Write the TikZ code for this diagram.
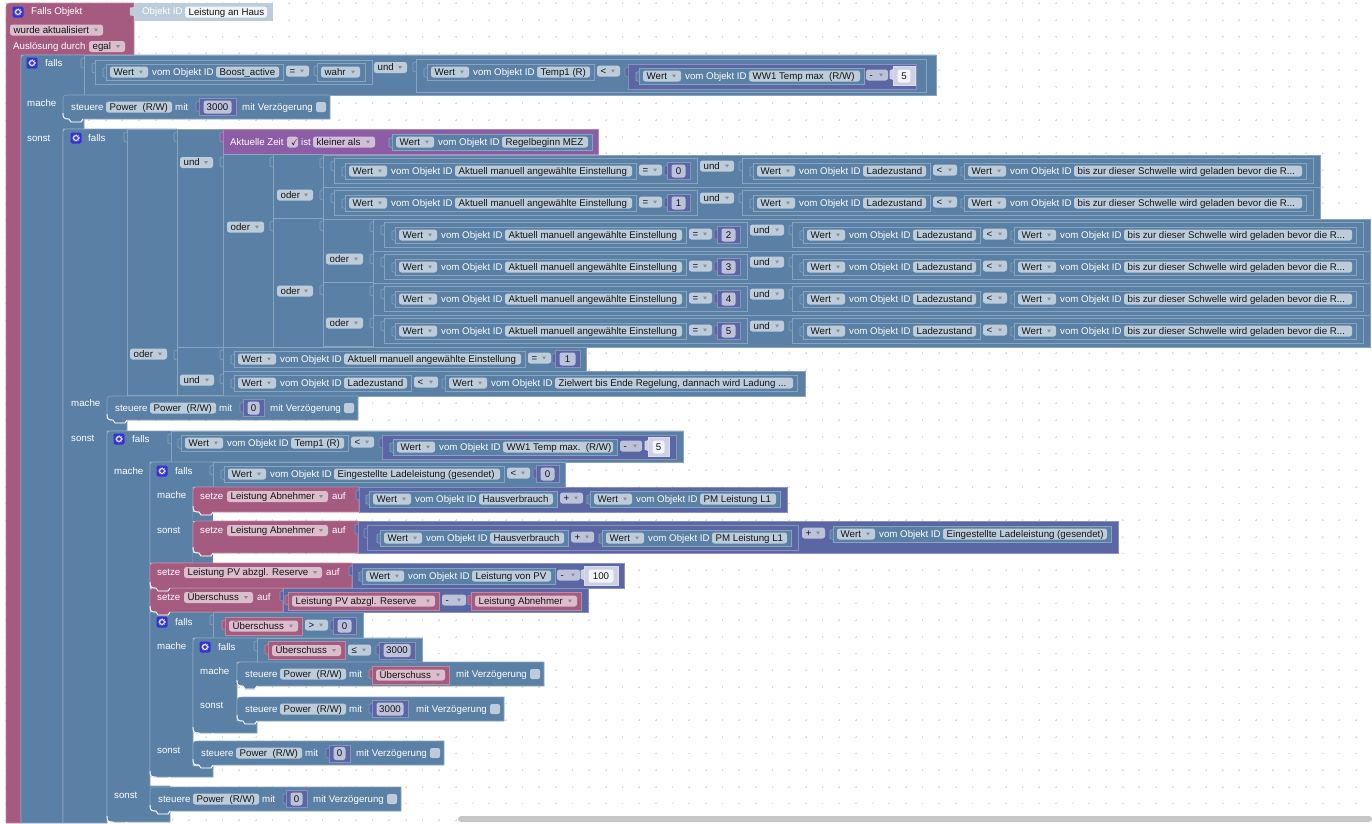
\documentclass[tikz,border=0pt]{standalone}
\usepackage{amssymb}
\usepackage{fontspec}
\setmainfont{Liberation Sans}
\definecolor{blockblue}{HTML}{5B80A5}
\definecolor{pinkblk}{HTML}{A55B80}
\definecolor{mathblk}{HTML}{5B67A5}
\definecolor{timeblk}{HTML}{8C5CA4}
\definecolor{idblk}{HTML}{BDCCDB}
\definecolor{bluefld}{HTML}{BDCCDB}
\definecolor{pinkfld}{HTML}{DBBDCC}
\definecolor{mathfld}{HTML}{BDC2DB}
\definecolor{timefld}{HTML}{D1BEDB}
\definecolor{mathlt}{HTML}{CDD0E6}
\definecolor{iconblue}{HTML}{3232D6}
\tikzset{
  lbl/.style={anchor=base west,inner sep=0pt,text=white,font=\fontsize{9.7}{11}\selectfont},
  fldtxt/.style={anchor=base west,inner sep=0pt,text=black!92,font=\fontsize{9.7}{11}\selectfont},
  numtxt/.style={anchor=base,inner sep=0pt,text=black!92,font=\fontsize{9.7}{11}\selectfont},
  dotmark/.style={draw=black!14,line width=.35pt}
}
\newcounter{nodeno}
\newcommand{\lb}[3]{\stepcounter{nodeno}\node[lbl] (lb\thenodeno) at (#1,#2+3.3) {#3};}
% field without arrow
\newcommand{\ff}[5][bluefld]{\fill[#1,rounded corners=2.5pt] (#2,#4-5.5) rectangle (#3,#4+5.5);
  \stepcounter{nodeno}\node[fldtxt] (ff\thenodeno) at (#2+3.5,#4+3.3) {#5};}
% field with dropdown arrow
\newcommand{\dd}[5][bluefld]{\ff[#1]{#2}{#3}{#4}{#5}
  \fill[black!45] (#3-9,#4-1.5) -- (#3-5,#4-1.5) -- (#3-7,#4+1.5) -- cycle;}
% value block with its tab
\newcommand{\vb}[5][blockblue]{\filldraw[draw=#1!72!white,fill=#1,line width=.6pt] (#2,#3) rectangle (#4,#5);
  \filldraw[draw=#1!72!white,fill=#1,line width=.6pt] (#2,#3+3) -- (#2-3,#3+4) -- (#2-3,#3+12) -- (#2,#3+13);}
\newcommand{\bcurve}[2]{\draw[white,line width=.9pt] (#1,#2-6) .. controls (#1,#2-1) and (#1+1,#2) .. (#1+6,#2) -- (#1+8,#2+3) -- (#1+18,#2+3) -- (#1+20,#2);}
% statement block
\newcommand{\stm}[5][blockblue]{\filldraw[draw=#1!72!white,fill=#1,line width=.6pt]
    (#2,#3+5) .. controls (#2,#3+1) and (#2+1,#3) .. (#2+5,#3) -- (#4,#3) -- (#4,#5) -- (#2+20,#5)
    -- (#2+18,#5+3) -- (#2+8,#5+3) -- (#2+6,#5) .. controls (#2+1,#5) and (#2,#5-1) .. (#2,#5-5) -- cycle;
  \bcurve{#2}{#5}}
\newcommand{\numb}[4]{\vb[mathblk]{#1}{#3-8.5}{#2}{#3+8.5}
  \fill[mathfld,rounded corners=2.5pt] (#1+4.5,#3-6.5) rectangle (#2-4.5,#3+6.5);
  \stepcounter{nodeno}\node[numtxt] (nb\thenodeno) at ({(#1+#2)/2},#3+3.3) {#4};}
\newcommand{\numlt}[4]{\vb[mathlt]{#1}{#3-9.5}{#2}{#3+9.5}
  \fill[white!92!mathblk,rounded corners=2.5pt] (#1+4.5,#3-6.5) rectangle (#2-4.5,#3+6.5);
  \stepcounter{nodeno}\node[numtxt] (nb\thenodeno) at ({(#1+#2)/2},#3+3.3) {#4};}
\newcommand{\wertb}[4]{\vb{#1}{#3-7.5}{#2+4}{#3+8}
  \dd{#1+4}{#1+42}{#3}{Wert}
  \lb{#1+46}{#3}{vom Objekt ID}
  \ff{#1+110}{#2}{#3}{#4}}
\newcommand{\pinkval}[4]{\vb[pinkblk]{#1}{#3-9}{#2}{#3+9}
  \dd[pinkfld]{#1+4}{#2-4}{#3}{#4}}
\newcommand{\gear}[2]{\fill[iconblue,rounded corners=2pt] (#1-5.5,#2-5.5) rectangle (#1+5.5,#2+5.5);
  \draw[white,line width=1pt] (#1,#2) circle (2.4pt);
  \draw[white,line width=.5pt,dash pattern=on 1pt off 1pt] (#1,#2) circle (3.4pt);}
% steuere statement, the value goes in after it
\newcommand{\steuer}[3]{\stm{#1}{#2}{#1+136+#3+94}{#2+24}
  \lb{#1+8}{#2+12}{steuere}
  \ff{#1+43}{#1+109}{#2+12}{Power\ \ (R/W)}
  \lb{#1+112}{#2+12}{mit}
  \lb{#1+136+#3+6}{#2+12}{mit Verzögerung}
  \fill[bluefld,rounded corners=2pt] (#1+136+#3+80,#2+7) rectangle (#1+136+#3+90,#2+17);}
\newcommand{\setze}[6]{\stm[pinkblk]{#1}{#2}{#3}{#4}
  \lb{#1+7}{#2+9.5}{setze}
  \dd[pinkfld]{#1+34}{#5}{#2+9.5}{#6}
  \lb{#5+4}{#2+9.5}{auf}}
\newcommand{\condrow}[3]{\begin{scope}[shift={(#1,#2-155)}]
  \vb{323}{155}{1320}{187}
  \vb{334}{158}{697}{183}
  \wertb{345}{632}{171}{Aktuell manuell angewählte Einstellung}
  \dd{639}{662}{170}{=}
  \numb{667}{690}{171}{#3}
  \dd{700}{734}{166}{und}
  \vb{742}{158}{1313}{183}
  \wertb{753}{926}{171}{Ladezustand}
  \dd{933}{957}{170}{<}
  \wertb{964}{1302}{171}{bis zur dieser Schwelle wird geladen bevor die R...}
\end{scope}}
\begin{document}
\begin{tikzpicture}[x=1pt,y=-1pt]
\useasboundingbox (0,0) rectangle (1372,823);
\fill[white] (0,0) rectangle (1372,823);
% background dots
\foreach \i in {0,...,82}
  \foreach \j in {0,...,49}
    \draw[dotmark] ({5.7+16.67*\i-.9},{3.3+16.67*\j}) -- +(1.8,0) +(.9,-.9) -- +(.9,.9);
% Falls Objekt
\filldraw[draw=pinkblk!72!white,fill=pinkblk,line width=.6pt] (6,8) .. controls (6,4) and (7,3) .. (11,3) -- (134,3) -- (134,55) -- (21,55) -- (21,823) -- (6,823) -- cycle;
\gear{18}{12}
\lb{31}{11.5}{Falls Objekt}
\filldraw[draw=idblk,fill=idblk] (135,3) rectangle (272,20);
\filldraw[draw=idblk,fill=idblk] (134,7) -- (130,8) -- (130,15) -- (134,16);
\lb{142}{11.5}{Objekt ID}
\ff[white!80!idblk]{185}{267}{12}{Leistung an Haus}
\dd[pinkfld]{10}{103}{30}{wurde aktualisiert}
\lb{13}{46.5}{Auslösung durch}
\dd[pinkfld]{89}{125}{46.5}{egal}
% erstes falls
\filldraw[draw=blockblue!72!white,fill=blockblue,line width=.6pt] (21,60) .. controls (21,56) and (22,55) .. (26,55) -- (936,55) -- (936,95) -- (84,95) -- (84,129) -- (63,129) -- (63,823) -- (21,823) -- cycle;
\gear{32}{63}
\lb{45}{63}{falls}
\lb{27}{103}{mache}
\lb{27}{138}{sonst}
\vb{84}{55}{936}{95}
\vb{95}{60}{372}{84}
\wertb{106}{279}{72}{Boost\_active}
\dd{286}{309}{71}{=}
\vb{317}{63}{365}{81}
\dd{321}{360}{72}{wahr}
\dd{374}{407}{67.5}{und}
\vb{416}{59}{926}{92}
\wertb{427}{590}{72}{Temp1 (R)}
\dd{597}{620}{71}{<}
\vb[mathblk]{628}{64}{916}{89}
\wertb{639}{860}{76}{WW1 Temp max\ \ (R/W)}
\dd[mathfld]{866}{888}{75}{-}
\numlt{893}{915}{76}{5}
\steuer{63}{95}{37}
\numb{199}{236}{107}{3000}
% zweites falls
\filldraw[draw=blockblue!72!white,fill=blockblue,line width=.6pt] (63,134) .. controls (63,130) and (64,129) .. (68,129) -- (177,129) -- (177,396) -- (127,396) -- (127,431) -- (107,431) -- (107,823) -- (63,823) -- cycle;
\gear{76}{138}
\lb{88}{138}{falls}
\lb{71}{403}{mache}
\lb{71}{438}{sonst}
\vb{127}{129}{177}{395}
\dd{130}{167}{354}{oder}
\vb{177}{129}{223}{347}
\dd{180}{213}{162.5}{und}
\vb[timeblk]{223}{129}{598}{154}
\lb{230}{142}{Aktuelle Zeit}
\ff[timefld]{287}{298}{142}{\fontsize{9}{9}\selectfont\rlap{\raisebox{-.3pt}{$\checkmark$}}}
\lb{301}{142}{ist}
\dd[timefld]{313}{375}{142}{kleiner als}
\wertb{392}{588}{142}{Regelbeginn MEZ}
\vb{223}{154}{273}{347}
\dd{227}{264}{227}{oder}
\vb{273}{154}{323}{218}
\dd{277}{313}{195}{oder}
\vb{273}{218}{323}{347}
\dd{277}{313}{291}{oder}
\vb{323}{218}{373}{282}
\dd{326}{363}{259}{oder}
\vb{323}{282}{373}{346}
\dd{326}{363}{323}{oder}
\condrow{0}{155}{0}
\condrow{0}{187}{1}
\condrow{50}{219}{2}
\condrow{50}{251}{3}
\condrow{50}{283}{4}
\condrow{50}{315}{5}
\vb{177}{347}{223}{395}
\dd{180}{214}{380}{und}
\vb{223}{347}{586}{371}
\wertb{234}{521}{359}{Aktuell manuell angewählte Einstellung}
\dd{528}{551}{358}{=}
\numb{555}{580}{359}{1}
\vb{223}{371}{805}{396}
\wertb{234}{407}{383}{Ladezustand}
\dd{414}{438}{382}{<}
\wertb{445}{793}{383}{Zielwert bis Ende Regelung, dannach wird Ladung ...}
\steuer{107}{396}{21}
\numb{243}{264}{408}{0}
% drittes falls
\filldraw[draw=blockblue!72!white,fill=blockblue,line width=.6pt] (107,436) .. controls (107,432) and (108,431) .. (112,431) -- (683,431) -- (683,462) -- (150,462) -- (150,786) -- (170,786) -- (170,822) -- (127,822) -- (113,822) .. controls (108,822) and (107,821) .. (107,816) -- cycle;
\bcurve{107}{822}
\gear{119}{439}
\lb{132}{439}{falls}
\lb{114}{471}{mache}
\lb{114}{795}{sonst}
\vb{171}{431}{683}{462}
\wertb{181}{344}{443}{Temp1 (R)}
\dd{351}{374}{442}{<}
\vb[mathblk]{382}{435}{676}{459}
\wertb{393}{613}{447}{WW1 Temp max.\ \ (R/W)}
\dd[mathfld]{620}{642}{446}{-}
\numlt{648}{669}{447}{5}
% viertes falls
\filldraw[draw=blockblue!72!white,fill=blockblue,line width=.6pt] (150,467) .. controls (150,463) and (151,462) .. (155,462) -- (565,462) -- (565,487) -- (193,487) -- (193,563) -- (150,563) -- cycle;
\gear{162}{471}
\lb{175}{471}{falls}
\lb{157}{495}{mache}
\lb{157}{530}{sonst}
\vb{213}{462}{565}{487}
\wertb{224}{500}{474}{Eingestellte Ladeleistung (gesendet)}
\dd{507}{530}{473}{<}
\numb{536}{559}{474}{0}
\fill[blockblue] (193,512) rectangle (213,521);
\fill[blockblue] (193,553) rectangle (213,563);
\setze{193}{487}{359}{512}{328}{Leistung Abnehmer}
\vb[mathblk]{359}{487}{787}{512}
\wertb{369}{553}{499}{Hausverbrauch}
\dd[mathfld]{560}{583}{498}{+}
\wertb{590}{776}{499}{PM Leistung L1}
\setze{193}{521}{358}{553}{328}{Leistung Abnehmer}
\vb[mathblk]{358}{521}{1118}{553}
\vb[mathblk]{367}{525}{798}{550}
\wertb{380}{564}{538}{Hausverbrauch}
\dd[mathfld]{571}{594}{537}{+}
\wertb{602}{787}{538}{PM Leistung L1}
\dd[mathfld]{802}{825}{533}{+}
\wertb{833}{1107}{534}{Eingestellte Ladeleistung (gesendet)}
% falls unter den setze
\filldraw[draw=blockblue!72!white,fill=blockblue,line width=.6pt] (150,612) -- (363,612) -- (363,638) -- (193,638) -- (193,766) -- (213,766) -- (213,777) -- (155,777) .. controls (151,777) and (150,776) .. (150,772) -- cycle;
\bcurve{150}{777}
\gear{162}{622}
\lb{175}{622}{falls}
\lb{157}{646}{mache}
\lb{157}{750}{sonst}
\vb{213}{612}{363}{638}
\pinkval{225}{302}{626}{Überschuss}
\dd{305}{328}{625}{>}
\numb{333}{356}{626}{0}
\filldraw[draw=blockblue!72!white,fill=blockblue,line width=.6pt] (193,643) .. controls (193,639) and (194,638) .. (198,638) -- (422,638) -- (422,662) -- (237,662) -- (237,721) -- (257,721) -- (257,733) -- (198,733) .. controls (194,733) and (193,732) .. (193,728) -- cycle;
\bcurve{193}{733}
\gear{205}{647}
\lb{218}{647}{falls}
\lb{200}{671}{mache}
\lb{200}{705}{sonst}
\vb{257}{638}{422}{662}
\pinkval{268}{345}{650.5}{Überschuss}
\dd{348}{371}{650}{≤}
\numb{379}{415}{650.5}{3000}
\steuer{237}{662}{77}
\pinkval{372}{449}{675}{Überschuss}
\steuer{237}{697}{37}
\numb{372}{408}{709}{3000}
\steuer{193}{741}{21}
\numb{329}{350}{753.5}{0}
\steuer{150}{787}{21}
\numb{286}{307}{799}{0}
% setze ohne falls
\setze{150}{588}{283}{612}{253}{Überschuss}
\vb[mathblk]{283}{588}{588}{612}
\pinkval{288}{439}{601}{Leistung PV abzgl. Reserve}
\dd[mathfld]{442}{466}{600}{-}
\pinkval{471}{581}{601}{Leistung Abnehmer}
\setze{150}{563}{352}{588}{322}{Leistung PV abzgl. Reserve}
\vb[mathblk]{352}{563}{624}{588}
\wertb{362}{551}{576}{Leistung von PV}
\dd[mathfld]{557}{580}{575}{-}
\numlt{584}{618}{576}{100}
% scrollbar
\fill[black!22,rounded corners=3pt] (458,816) rectangle (1372,822);
\end{tikzpicture}
\end{document}
